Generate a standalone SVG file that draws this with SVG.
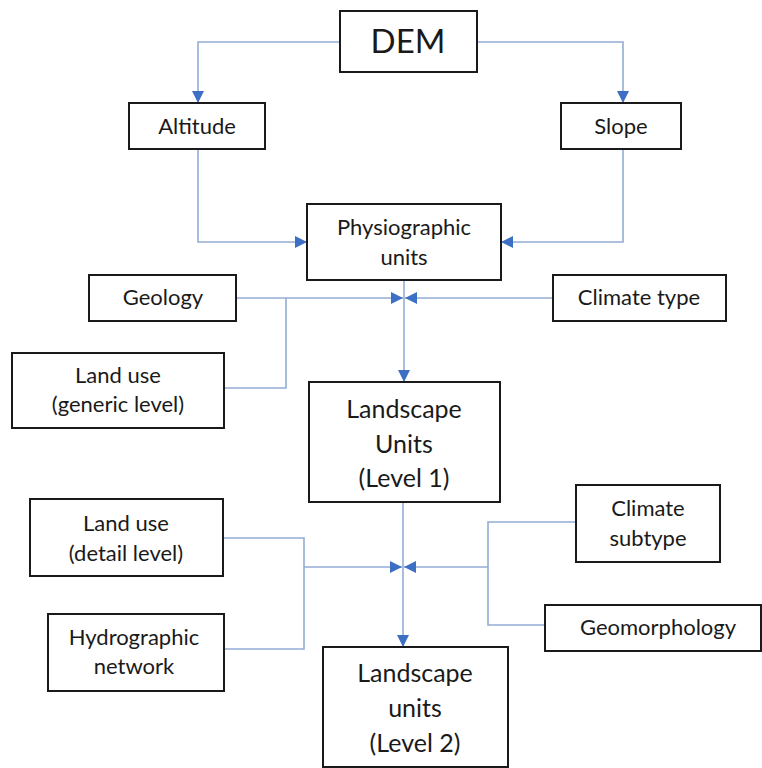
<svg xmlns="http://www.w3.org/2000/svg" width="762" height="768" viewBox="0 0 762 768">
  <style>
    .box { fill: #ffffff; stroke: #1a1a1a; stroke-width: 2; }
    .lbl { font-family: Lato, "Open Sans", "Liberation Sans", sans-serif; font-size: 22px; fill: #1a1a1a; text-anchor: middle; }
    .big { font-size: 25px; }
    .dem { font-size: 33px; }
    .conn { fill: none; stroke: #93acd6; stroke-width: 1.6; }
  </style>
  <defs>
    <marker id="arrow" markerUnits="userSpaceOnUse" markerWidth="13" markerHeight="13" refX="12" refY="6.5" orient="auto">
      <path d="M0,0.5 L12,6.5 L0,12.5 z" fill="#3d6fc4"/>
    </marker>
  </defs>
  <rect width="762" height="768" fill="#ffffff"/>

  <g id="connectors">
    <path class="conn" d="M340,42 H198 V103" marker-end="url(#arrow)"/>
    <path class="conn" d="M477,42 H623 V103" marker-end="url(#arrow)"/>
    <path class="conn" d="M198,149 V242 H307" marker-end="url(#arrow)"/>
    <path class="conn" d="M623,149 V242 H501" marker-end="url(#arrow)"/>
    <path class="conn" d="M404,280 V382" marker-end="url(#arrow)"/>
    <path class="conn" d="M236,298 H403" marker-end="url(#arrow)"/>
    <path class="conn" d="M553,298 H405" marker-end="url(#arrow)"/>
    <path class="conn" d="M224,388 H286 V298"/>
    <path class="conn" d="M403,502 V647" marker-end="url(#arrow)"/>
    <path class="conn" d="M304,567 H402" marker-end="url(#arrow)"/>
    <path class="conn" d="M488,567 H404" marker-end="url(#arrow)"/>
    <path class="conn" d="M223,538 H304 V649 H224"/>
    <path class="conn" d="M576,522 H488 V625 H545"/>
  </g>

  <g id="dem">
    <rect class="box" x="340" y="11" width="137" height="61"/>
    <text class="lbl dem" x="408" y="53">DEM</text>
  </g>
  <g id="altitude">
    <rect class="box" x="129" y="103" width="136" height="46"/>
    <text class="lbl" x="197" y="134">Altitude</text>
  </g>
  <g id="slope">
    <rect class="box" x="561" y="103" width="120" height="46"/>
    <text class="lbl" x="621" y="134">Slope</text>
  </g>
  <g id="physiographic">
    <rect class="box" x="307" y="204" width="194" height="76"/>
    <text class="lbl" x="404" y="235">Physiographic</text>
    <text class="lbl" x="404" y="265">units</text>
  </g>
  <g id="geology">
    <rect class="box" x="89" y="275" width="147" height="46"/>
    <text class="lbl" x="163" y="305">Geology</text>
  </g>
  <g id="climate-type">
    <rect class="box" x="553" y="275" width="173" height="46"/>
    <text class="lbl" x="639" y="305">Climate type</text>
  </g>
  <g id="land-use-generic">
    <rect class="box" x="12" y="353" width="212" height="75"/>
    <text class="lbl" x="118" y="383">Land use</text>
    <text class="lbl" x="118" y="412">(generic level)</text>
  </g>
  <g id="landscape-level1">
    <rect class="box" x="309" y="382" width="191" height="120"/>
    <text class="lbl big" x="404" y="418">Landscape</text>
    <text class="lbl big" x="404" y="453">Units</text>
    <text class="lbl big" x="404" y="487">(Level 1)</text>
  </g>
  <g id="land-use-detail">
    <rect class="box" x="30" y="499" width="193" height="77"/>
    <text class="lbl" x="126" y="531">Land use</text>
    <text class="lbl" x="126" y="561">(detail level)</text>
  </g>
  <g id="hydrographic">
    <rect class="box" x="48" y="614" width="176" height="77"/>
    <text class="lbl" x="134" y="645">Hydrographic</text>
    <text class="lbl" x="134" y="674">network</text>
  </g>
  <g id="climate-subtype">
    <rect class="box" x="576" y="485" width="144" height="77"/>
    <text class="lbl" x="648" y="516">Climate</text>
    <text class="lbl" x="648" y="546">subtype</text>
  </g>
  <g id="geomorphology">
    <rect class="box" x="545" y="605" width="216" height="46"/>
    <text class="lbl" x="658" y="635">Geomorphology</text>
  </g>
  <g id="landscape-level2">
    <rect class="box" x="323" y="647" width="185" height="120"/>
    <text class="lbl big" x="415" y="682">Landscape</text>
    <text class="lbl big" x="415" y="717">units</text>
    <text class="lbl big" x="415" y="752">(Level 2)</text>
  </g>
</svg>
